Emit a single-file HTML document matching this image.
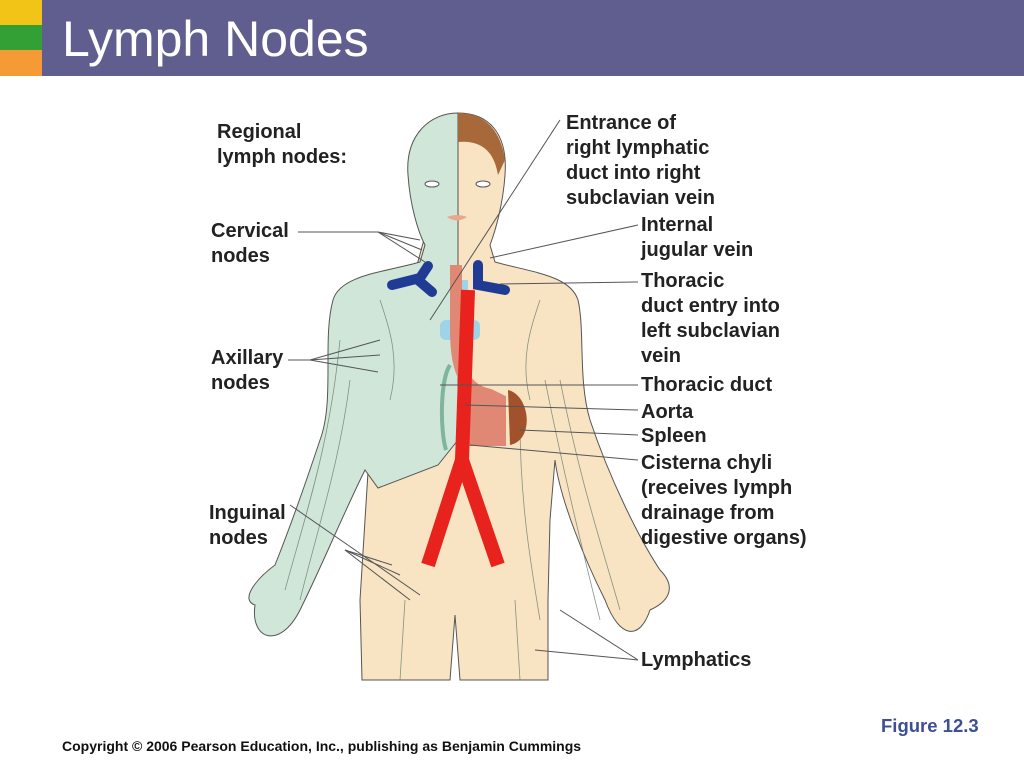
<!DOCTYPE html>
<html><head><meta charset="utf-8"><style>
html,body{margin:0;padding:0;background:#fff;}
body{width:1024px;height:768px;position:relative;overflow:hidden;font-family:"Liberation Sans",sans-serif;}
.t{position:absolute;font-weight:bold;font-size:20px;line-height:25px;color:#222;}
</style></head><body>
<div style="position:absolute;left:0;top:0;width:42px;height:25px;background:#f2c417"></div>
<div style="position:absolute;left:0;top:25px;width:42px;height:25px;background:#33a036"></div>
<div style="position:absolute;left:0;top:50px;width:42px;height:26px;background:#f59a35"></div>
<div style="position:absolute;left:42px;top:0;width:982px;height:76px;background:#5f5e8e"></div>
<div style="position:absolute;left:62px;top:11px;color:#fff;font-size:50px;line-height:56px">Lymph Nodes</div>

<svg style="position:absolute;left:0;top:0" width="1024" height="768">
<g stroke="#555" stroke-width="1">
<path d="M458,113 C490,113 508,135 505,175 C503,205 495,232 490,245 L495,262 C530,272 570,275 578,300 C585,330 578,380 590,420 C610,480 640,540 660,570 C675,585 672,600 650,610 C640,640 620,640 605,600 C585,560 560,500 555,460 L550,520 L548,600 L548,680 L460,680 L455,615 L450,680 L362,680 L360,600 L370,440 Z" fill="#f8e3c2"/>
<path d="M458,113 C430,113 405,135 408,175 C410,205 418,232 425,245 L420,262 C385,272 340,275 333,300 C322,340 335,400 320,440 C300,500 285,540 275,565 C255,580 240,600 255,605 C250,640 280,650 300,610 C320,570 345,510 365,470 L378,488 L438,465 L458,440 L458,250 Z" fill="#cfe6d9"/>
<path d="M458,113 C480,113 500,125 505,160 L498,175 C494,150 480,140 458,142 Z" fill="#a8693a" stroke="none"/>
</g>
<g stroke="#6b7d6f" stroke-width="0.8" fill="none" opacity="0.8">
<path d="M300,600 C320,520 340,460 350,380 M285,590 C310,500 330,440 340,340 M540,620 C530,560 520,500 520,420 M620,610 C600,540 580,480 560,380 M600,620 C585,560 565,480 545,380 M400,680 L405,600 M520,680 L515,600 M380,300 C390,330 400,360 390,400 M540,300 C530,330 520,360 530,400"/>
</g>
<ellipse cx="432" cy="184" rx="7" ry="3" fill="#fff" stroke="#555"/><ellipse cx="483" cy="184" rx="7" ry="3" fill="#fff" stroke="#555"/>
<path d="M447,217 Q457,213 467,217 Q457,224 447,217" fill="#e9a88e"/>
<path d="M392,285 L420,278 L428,266 M418,280 L432,292" stroke="#1f3b93" stroke-width="10" fill="none" stroke-linecap="round"/>
<path d="M478,265 L478,285 L505,290" stroke="#1f3b93" stroke-width="10" fill="none" stroke-linecap="round"/>
<rect x="452" y="280" width="16" height="55" fill="#9fd4e8"/>
<rect x="440" y="320" width="40" height="20" rx="6" fill="#9fd4e8"/>
<path d="M456,265 L456,330 C456,380 470,390 490,395 L500,400 L500,440 L470,440 L465,410" stroke="#e08873" stroke-width="12" fill="#e08873"/>
<path d="M508,390 C530,395 535,440 510,445 Z" fill="#a1522c"/>
<path d="M468,290 L462,460 L428,565 M462,460 L498,565" stroke="#e8221d" stroke-width="14" fill="none"/>
<path d="M450,365 C440,380 440,430 446,450" stroke="#7fb59b" stroke-width="4" fill="none"/>
<g stroke="#555" stroke-width="1" fill="none">
<line x1="298" y1="232" x2="378" y2="232"/><line x1="378" y1="232" x2="420" y2="240"/><line x1="378" y1="232" x2="422" y2="250"/><line x1="378" y1="232" x2="425" y2="262"/>
<line x1="288" y1="360" x2="310" y2="360"/><line x1="310" y1="360" x2="380" y2="340"/><line x1="310" y1="360" x2="380" y2="355"/><line x1="310" y1="360" x2="378" y2="372"/>
<line x1="290" y1="505" x2="420" y2="595"/><line x1="345" y1="550" x2="410" y2="600"/><line x1="345" y1="550" x2="400" y2="575"/><line x1="345" y1="550" x2="392" y2="565"/>
<line x1="560" y1="120" x2="430" y2="320"/>
<line x1="638" y1="225" x2="490" y2="258"/>
<line x1="638" y1="282" x2="500" y2="284"/>
<line x1="638" y1="385" x2="440" y2="385"/>
<line x1="638" y1="410" x2="465" y2="405"/>
<line x1="638" y1="435" x2="520" y2="430"/>
<line x1="638" y1="460" x2="470" y2="445"/>
<line x1="638" y1="660" x2="535" y2="650"/><line x1="638" y1="660" x2="560" y2="610"/>
</g>
</svg>

<div class="t" style="left:217px;top:120px">Regional<br>lymph nodes:</div>
<div class="t" style="left:211px;top:219px">Cervical<br>nodes</div>
<div class="t" style="left:211px;top:346px">Axillary<br>nodes</div>
<div class="t" style="left:209px;top:501px">Inguinal<br>nodes</div>
<div class="t" style="left:566px;top:111px">Entrance of<br>right lymphatic<br>duct into right<br>subclavian vein</div>
<div class="t" style="left:641px;top:213px">Internal<br>jugular vein</div>
<div class="t" style="left:641px;top:269px">Thoracic<br>duct entry into<br>left subclavian<br>vein</div>
<div class="t" style="left:641px;top:373px">Thoracic duct</div>
<div class="t" style="left:641px;top:400px">Aorta</div>
<div class="t" style="left:641px;top:424px">Spleen</div>
<div class="t" style="left:641px;top:451px">Cisterna chyli<br>(receives lymph<br>drainage from<br>digestive organs)</div>
<div class="t" style="left:641px;top:648px">Lymphatics</div>
<div style="position:absolute;left:881px;top:715px;font-weight:bold;font-size:18.5px;color:#3d4f96">Figure 12.3</div>
<div style="position:absolute;left:62px;top:738px;font-weight:bold;font-size:14px;color:#111">Copyright © 2006 Pearson Education, Inc., publishing as Benjamin Cummings</div>
</body></html>
